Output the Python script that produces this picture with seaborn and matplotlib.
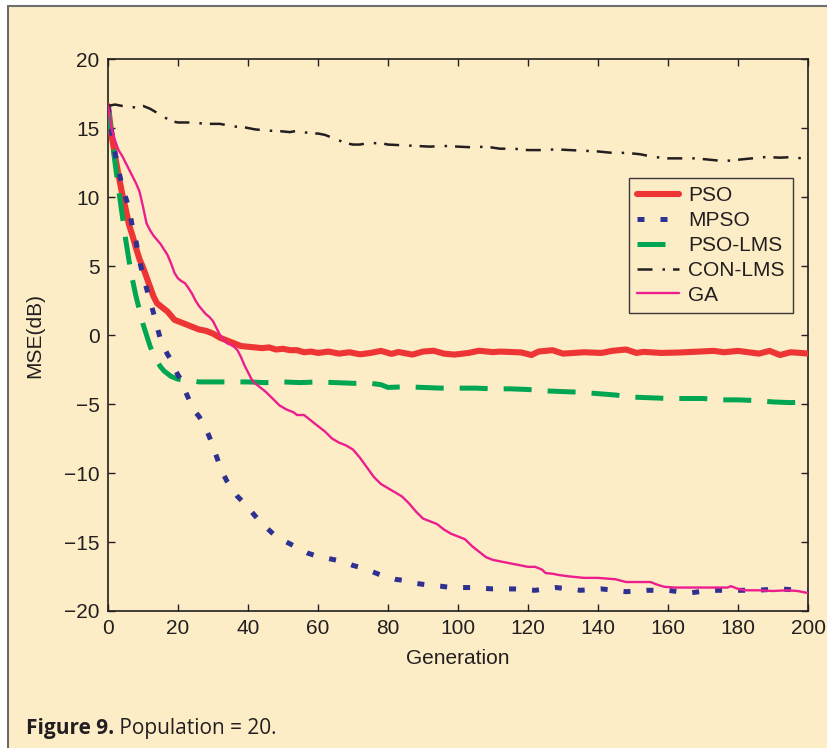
import numpy as np
import pandas as pd
import matplotlib
matplotlib.use("Agg")
import matplotlib.pyplot as plt
from matplotlib.patches import Rectangle
from matplotlib.lines import Line2D
import seaborn as sns

# ---- data (generation, MSE in dB) ----
pso_gen = [0, 1, 2, 3, 4, 5, 6, 7, 8, 9, 10, 11, 12, 13, 14, 15, 16, 17, 18, 19, 20,
           22, 24, 26, 28, 30, 32, 34, 36, 38, 40, 42, 44, 46, 48, 50, 52, 54, 56, 58,
           60, 63, 66, 69, 72, 75, 78, 81, 83, 87, 90, 93, 96, 99, 103, 106, 110, 112,
           118, 121, 123, 127, 130, 136, 141, 144, 148, 151, 153, 158, 163, 169, 173,
           176, 180, 186, 189, 192, 195, 198, 200]
pso_mse = [16.6, 14.5, 13.0, 11.6, 10.3, 9.2, 8.0, 7.2, 6.3, 5.5, 4.9, 4.2, 3.5, 2.8,
           2.3, 2.1, 1.9, 1.7, 1.4, 1.1, 1.0, 0.8, 0.6, 0.4, 0.3, 0.1, -0.2, -0.4, -0.6,
           -0.8, -0.85, -0.9, -0.95, -0.9, -1.05, -1.0, -1.1, -1.1, -1.25, -1.2, -1.3,
           -1.2, -1.35, -1.25, -1.4, -1.3, -1.15, -1.37, -1.23, -1.42, -1.2, -1.14,
           -1.35, -1.42, -1.3, -1.14, -1.24, -1.2, -1.26, -1.45, -1.2, -1.1, -1.35,
           -1.25, -1.3, -1.15, -1.05, -1.3, -1.22, -1.3, -1.27, -1.2, -1.15, -1.25,
           -1.15, -1.35, -1.15, -1.45, -1.25, -1.3, -1.35]

mpso_gen = [0, 1, 2, 3, 4, 5, 6, 7, 8, 9, 10, 11, 12, 13, 14, 15, 16, 17, 18, 19, 20,
            21, 22, 23, 24, 25, 26, 27, 28, 29, 30, 31, 32, 33, 34, 35, 37, 39, 41, 43,
            45, 48, 51, 54, 57, 60, 63, 67, 70, 73, 76, 79, 82, 85, 88, 91, 95, 98, 104,
            110, 116, 122, 128, 135, 141, 148, 154, 160, 166, 172, 179, 185, 192, 198, 200]
mpso_mse = [16.6, 14.8, 13.2, 12.0, 10.8, 10.0, 9.2, 7.8, 6.8, 5.4, 4.3, 3.4, 2.5, 1.6,
            0.6, -0.3, -0.9, -1.4, -1.8, -2.4, -2.9, -3.3, -4.0, -4.6, -5.2, -5.6, -5.9,
            -6.3, -6.8, -7.4, -8.1, -8.8, -9.5, -10.1, -10.6, -11.0, -11.7, -12.2, -12.8,
            -13.4, -13.9, -14.6, -15.0, -15.4, -15.8, -16.05, -16.2, -16.4, -16.7, -16.9,
            -17.2, -17.5, -17.7, -17.8, -18.0, -18.1, -18.2, -18.3, -18.3, -18.4, -18.4,
            -18.5, -18.3, -18.5, -18.4, -18.6, -18.5, -18.5, -18.7, -18.5, -18.5, -18.5,
            -18.4, -18.5, -18.5]

psolms_gen = [0, 1, 2, 3, 4, 5, 6, 7, 8, 9, 10, 11, 12, 13, 14, 15, 16, 17, 18, 20, 22,
              24, 26, 30, 35, 40, 45, 50, 55, 60, 65, 70, 75, 78, 80, 85, 90, 95, 100,
              105, 110, 115, 120, 125, 130, 135, 140, 145, 150, 155, 160, 165, 170, 175,
              180, 185, 190, 195, 200]
psolms_mse = [16.6, 14.5, 12.5, 10.6, 8.8, 7.0, 5.4, 4.0, 2.8, 1.8, 0.8, 0.0, -0.8, -1.4,
              -1.9, -2.3, -2.6, -2.8, -3.0, -3.2, -3.3, -3.3, -3.4, -3.4, -3.4, -3.4,
              -3.45, -3.4, -3.45, -3.4, -3.45, -3.5, -3.5, -3.6, -3.8, -3.75, -3.8, -3.85,
              -3.85, -3.85, -3.9, -3.9, -3.95, -4.05, -4.1, -4.15, -4.25, -4.35, -4.5,
              -4.55, -4.6, -4.6, -4.6, -4.7, -4.7, -4.75, -4.85, -4.9, -4.85]

conlms_gen = [0, 2, 4, 6, 8, 10, 12, 14, 16, 18, 20, 24, 28, 32, 34, 36, 38, 40, 42, 44,
              46, 48, 50, 52, 54, 56, 58, 60, 62, 64, 66, 68, 70, 72, 74, 76, 78, 80, 84,
              88, 92, 96, 100, 104, 108, 112, 116, 120, 124, 128, 132, 136, 140, 144,
              148, 152, 156, 160, 164, 168, 172, 176, 180, 184, 188, 192, 196, 198, 200]
conlms_mse = [16.6, 16.7, 16.6, 16.5, 16.5, 16.6, 16.4, 16.1, 15.8, 15.5, 15.4, 15.4,
              15.3, 15.3, 15.2, 15.1, 15.1, 15.0, 14.9, 14.85, 14.8, 14.8, 14.75, 14.7,
              14.8, 14.7, 14.6, 14.6, 14.5, 14.3, 14.1, 13.9, 13.8, 13.8, 13.9, 13.9,
              13.9, 13.8, 13.75, 13.7, 13.65, 13.7, 13.65, 13.6, 13.65, 13.5, 13.5, 13.4,
              13.4, 13.45, 13.4, 13.35, 13.3, 13.2, 13.2, 13.1, 12.9, 12.8, 12.8, 12.8,
              12.7, 12.6, 12.7, 12.8, 12.9, 12.85, 12.9, 12.8, 13.1]

ga_gen = [0, 1, 2, 3, 4, 5, 6, 7, 8, 9, 10, 11, 12, 13, 14, 15, 16, 17, 18, 19, 20, 21,
          22, 23, 24, 25, 26, 27, 28, 29, 30, 31, 32, 33, 34, 35, 36, 37, 38, 39, 40, 41,
          42, 43, 44, 45, 47, 49, 51, 53, 54, 56, 58, 60, 62, 64, 66, 68, 70, 72, 74, 76,
          78, 80, 82, 84, 86, 88, 90, 92, 94, 96, 98, 100, 102, 104, 106, 108, 110, 112,
          114, 116, 118, 120, 122, 124, 125, 127, 129, 132, 136, 140, 145, 148, 152, 155,
          157, 159, 162, 166, 170, 174, 177, 178, 180, 182, 186, 190, 194, 197, 200]
ga_mse = [16.6, 15.0, 14.1, 13.4, 13.0, 12.5, 12.0, 11.5, 11.0, 10.4, 9.3, 8.1, 7.6,
          7.2, 6.9, 6.6, 6.2, 5.8, 5.2, 4.5, 4.1, 3.9, 3.75, 3.4, 3.0, 2.5, 2.1, 1.8, 1.5,
          1.3, 1.0, 0.5, 0.0, -0.35, -0.6, -0.7, -0.85, -1.1, -1.6, -2.2, -2.7, -3.2,
          -3.5, -3.7, -3.9, -4.1, -4.6, -5.1, -5.4, -5.6, -5.8, -5.8, -6.2, -6.6, -7.0,
          -7.5, -7.8, -8.0, -8.3, -8.9, -9.6, -10.3, -10.8, -11.1, -11.4, -11.7, -12.2,
          -12.8, -13.3, -13.5, -13.7, -14.1, -14.4, -14.6, -14.8, -15.3, -15.7, -16.1,
          -16.3, -16.4, -16.5, -16.6, -16.7, -16.8, -16.8, -17.0, -17.25, -17.3, -17.4,
          -17.5, -17.6, -17.6, -17.7, -17.9, -17.9, -17.9, -18.1, -18.25, -18.3, -18.3,
          -18.3, -18.3, -18.3, -18.2, -18.4, -18.5, -18.5, -18.55, -18.5, -18.55, -18.7]

x_ticks = [0, 20, 40, 60, 80, 100, 120, 140, 160, 180, 200]
y_ticks = [-20, -15, -10, -5, 0, 5, 10, 15, 20]

bg = "#fdedc7"
ink = "#231f20"
fs = 15

sns.set_style("ticks")
plt.rcParams["font.family"] = ["Liberation Sans", "DejaVu Sans"]

fig = plt.figure(figsize=(8.27, 7.48), dpi=100, facecolor="white")
# yellow panel with thin border on the top and left
fig.patches.append(Rectangle((8 / 827, 0), 1, 1 - 6 / 748, transform=fig.transFigure,
                             facecolor=bg, edgecolor="none", zorder=-2))
fig.lines.append(Line2D([8 / 827, 8 / 827], [0, 1 - 6 / 748], transform=fig.transFigure,
                        color="#4d4d4d", lw=1.2, zorder=-1))
fig.lines.append(Line2D([8 / 827, 1], [1 - 6 / 748, 1 - 6 / 748], transform=fig.transFigure,
                        color="#6e6e6e", lw=1.5, zorder=-1))

ax = fig.add_axes([108 / 827, 1 - 611 / 748, 700 / 827, 552 / 748])
ax.set_facecolor(bg)

sns.lineplot(x=pso_gen, y=pso_mse, ax=ax, color="#ee3535", linewidth=4.4,
             estimator=None, label="PSO", zorder=3)
sns.lineplot(x=psolms_gen, y=psolms_mse, ax=ax, color="#00a651", linewidth=3.6,
             linestyle=(0, (5.6, 3.2)), estimator=None, label="PSO-LMS", zorder=4)
sns.lineplot(x=mpso_gen, y=mpso_mse, ax=ax, color="#2e3192", linewidth=3.6,
             linestyle=(0, (1.4, 3.2)), estimator=None, label="MPSO", zorder=5)
sns.lineplot(x=conlms_gen, y=conlms_mse, ax=ax, color=ink, linewidth=1.8,
             linestyle=(0, (6.0, 4.0, 1.0, 3.2)), estimator=None, label="CON-LMS", zorder=5)
sns.lineplot(x=ga_gen, y=ga_mse, ax=ax, color="#ec1e8e", linewidth=1.7,
             estimator=None, label="GA", zorder=6)

ax.set_xlim(0, 200)
ax.set_ylim(-20, 20)
ax.set_xticks(x_ticks)
ax.set_yticks(y_ticks)
ax.tick_params(direction="in", length=5, width=1, top=True, right=True,
               labelsize=fs, colors=ink, pad=6)
for sp in ax.spines.values():
    sp.set_visible(True)
    sp.set_linewidth(1.2)
    sp.set_color(ink)

ax.set_xlabel("Generation", fontsize=fs, color=ink, labelpad=8)
ax.set_ylabel("MSE(dB)", fontsize=fs, color=ink, labelpad=14)

handles, labels = ax.get_legend_handles_labels()
order = ["PSO", "MPSO", "PSO-LMS", "CON-LMS", "GA"]
hmap = dict(zip(labels, handles))
leg = ax.legend([hmap[k] for k in order], order, loc="upper right",
                bbox_to_anchor=(0.9786, 0.7844), borderaxespad=0, fontsize=fs,
                handlelength=2.0, handletextpad=0.45, labelspacing=0.28,
                borderpad=0.4, fancybox=False, framealpha=1, facecolor=bg,
                edgecolor="#3a3a3a")
leg.get_frame().set_linewidth(1.0)
for t in leg.get_texts():
    t.set_color(ink)

t1 = fig.text(26 / 827, 1 - 734 / 748, "Figure 9.", fontsize=15, fontweight="bold",
              color=ink, family=["Open Sans", "DejaVu Sans"], va="baseline")
fig.add_artist(matplotlib.text.Annotation(
    " Population = 20.", xy=(1, 0), xycoords=t1, va="bottom",
    fontsize=15, color=ink, family=["Open Sans", "DejaVu Sans"]))

fig.savefig("out.png", dpi=100, facecolor=fig.get_facecolor())
